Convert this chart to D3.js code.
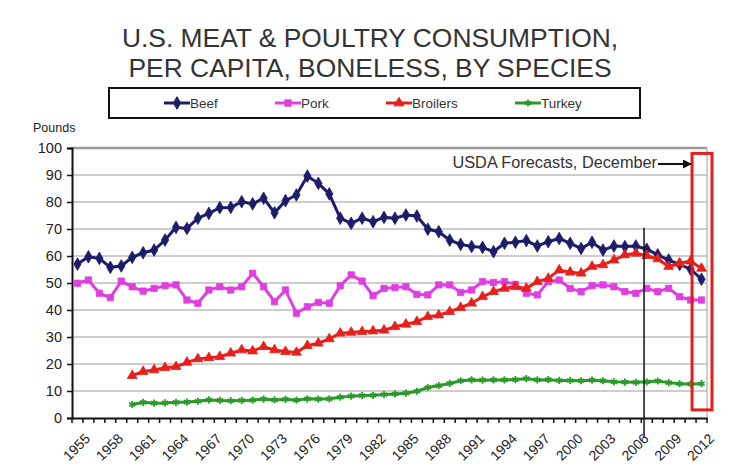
<!DOCTYPE html>
<html>
<head>
<meta charset="utf-8">
<script src="https://cdn.jsdelivr.net/npm/d3@7"></script>
<style>
  body { margin: 0; background: #fff; }
  svg { font-family: "Liberation Sans", Arial, sans-serif; }
</style>
</head>
<body>
<svg id="chart" width="742" height="475"></svg>
<script>
// years on the category axis
var years = d3.range(1955, 2013)

// pounds per capita, boneless
var beef = [57.0, 59.7, 59.1, 55.8, 56.3, 59.5, 61.2, 62.2, 65.9, 70.6,
            70.2, 74.0, 75.8, 77.9, 78.0, 80.1, 79.3, 81.4, 76.0, 80.5,
            82.6, 89.6, 86.9, 83.0, 74.0, 72.1, 74.0, 72.7, 74.3, 74.0,
            75.2, 74.8, 69.9, 69.0, 65.9, 64.3, 63.5, 63.2, 61.6, 64.7,
            65.1, 65.7, 63.7, 65.3, 66.5, 64.7, 62.8, 65.1, 62.2, 63.7,
            63.5, 63.7, 62.5, 60.4, 58.5, 56.9, 55.1, 51.4]

var pork = [49.9, 51.1, 46.2, 44.6, 50.7, 48.6, 47.0, 48.0, 49.0, 49.3,
            43.7, 42.5, 47.4, 48.6, 47.4, 48.6, 53.6, 48.6, 43.1, 47.4,
            38.8, 41.2, 42.8, 42.5, 49.0, 53.0, 50.7, 45.3, 48.0, 48.3,
            48.6, 45.8, 45.6, 49.3, 49.3, 46.5, 47.4, 50.5, 50.2, 50.5,
            49.5, 46.2, 45.6, 50.5, 51.1, 48.0, 46.8, 49.0, 49.3, 48.6,
            46.8, 46.2, 48.0, 46.8, 48.0, 44.9, 43.7, 43.7]

// broilers and turkey start in 1960
var broilers = [null, null, null, null, null,
            15.7, 17.2, 17.8, 18.6, 19.0, 20.6, 21.9, 22.3, 22.7, 24.0,
            25.2, 24.8, 26.4, 25.2, 24.6, 24.3, 26.8, 27.7, 29.3, 31.4,
            31.7, 32.0, 32.2, 32.5, 33.8, 34.7, 35.7, 37.5, 38.1, 39.4,
            40.9, 42.5, 44.9, 46.8, 48.0, 48.6, 48.0, 50.5, 51.7, 54.8,
            54.0, 53.6, 56.1, 56.7, 58.5, 60.4, 61.0, 60.1, 58.9, 56.1,
            57.3, 58.1, 55.4]

var turkey = [null, null, null, null, null,
            5.0, 5.8, 5.5, 5.6, 5.8, 5.9, 6.2, 6.7, 6.5, 6.4,
            6.5, 6.6, 7.0, 6.7, 6.9, 6.6, 7.1, 7.0, 7.1, 7.7,
            8.1, 8.3, 8.4, 8.7, 8.9, 9.2, 9.9, 11.3, 12.0, 12.8,
            13.8, 14.1, 14.0, 14.1, 14.1, 14.2, 14.6, 14.1, 14.2, 13.9,
            13.9, 13.8, 14.0, 13.8, 13.4, 13.3, 13.2, 13.4, 13.7, 13.1,
            12.7, 12.6, 12.7]

var yTicks = d3.range(0, 101, 10)

var series = [
    {name: "Beef", values: beef, color: "#1c1c6b", symbol: d3.symbolDiamond, size: 46},
    {name: "Pork", values: pork, color: "#e03ee0", symbol: d3.symbolSquare, size: 40},
    {name: "Broilers", values: broilers, color: "#e8201c", symbol: d3.symbolTriangle, size: 42},
    {name: "Turkey", values: turkey, color: "#2a9a2a", symbol: d3.symbolAsterisk, size: 36}
]

var dimensions = {
    width: 742,
    height: 475,
    margin: {top: 148, bottom: 57, left: 72, right: 35}
}

var svg = d3.select("#chart")

var xScale = d3.scaleBand()
    .domain(years)
    .range([dimensions.margin.left, dimensions.width - dimensions.margin.right])
    .padding(0)
var bw = xScale.bandwidth()
var xc = d => xScale(d) + bw / 2

var yScale = d3.scaleLinear()
    .domain([0, 100])
    .range([dimensions.height - dimensions.margin.bottom, dimensions.margin.top])

var x0 = dimensions.margin.left
var x1 = dimensions.width - dimensions.margin.right

//title
svg.append("g").selectAll("text")
    .data(["U.S. MEAT & POULTRY CONSUMPTION,", "PER CAPITA, BONELESS, BY SPECIES"])
    .enter().append("text")
    .attr("x", 370)
    .attr("y", (d, i) => 47 + i * 30)
    .attr("text-anchor", "middle")
    .attr("font-size", 26.4)
    .attr("fill", "#333")
    .text(d => d)

//legend
svg.append("rect")
    .attr("x", 109).attr("y", 88)
    .attr("width", 531).attr("height", 30)
    .attr("fill", "none").attr("stroke", "#111").attr("stroke-width", 2)

var legendX = [164, 275, 386, 515]
var legend = svg.append("g").selectAll("g")
    .data(series)
    .enter().append("g")
    .attr("transform", (d, i) => `translate(${legendX[i]},103)`)
legend.append("line")
    .attr("x1", 0).attr("x2", 26)
    .attr("stroke", d => d.color).attr("stroke-width", 3)
legend.append("path")
    .attr("transform", "translate(13,0)")
    .attr("d", d => d3.symbol().type(d.symbol).size(d.size)())
    .attr("fill", d => d.name == "Turkey" ? "none" : d.color)
    .attr("stroke", d => d.color)
    .attr("stroke-width", d => d.name == "Turkey" ? 1.8 : 1)
legend.append("text")
    .attr("x", 26).attr("y", 5)
    .attr("font-size", 13.5)
    .attr("fill", "#333")
    .text(d => d.name)

svg.append("text")
    .attr("x", 33).attr("y", 132)
    .attr("font-size", 12.5)
    .attr("fill", "#222")
    .text("Pounds")

//gridlines
svg.append("g").selectAll("line")
    .data(yTicks.filter(d => d > 0))
    .enter().append("line")
    .attr("x1", x0).attr("x2", x1)
    .attr("y1", d => yScale(d)).attr("y2", d => yScale(d))
    .attr("stroke", d => d == 100 ? "#999" : "#bdbdbd")
    .attr("stroke-width", d => d == 100 ? 2.5 : 1.6)

//right border of plot area
svg.append("line")
    .attr("x1", x1).attr("x2", x1)
    .attr("y1", yScale(100)).attr("y2", yScale(0))
    .attr("stroke", "#bbb").attr("stroke-width", 1.5)

//y axis
var yAxisgen = d3.axisLeft(yScale).tickValues(yTicks).tickSize(5).tickPadding(5)
var yAxis = svg.append("g")
    .attr("transform", `translate(${x0},0)`)
    .call(yAxisgen)
yAxis.select(".domain").attr("stroke", "#111").attr("stroke-width", 2)
yAxis.selectAll(".tick line").attr("stroke", "#111").attr("stroke-width", 1.5)
yAxis.selectAll("text")
    .attr("font-size", 14.5)
    .attr("font-family", "Liberation Sans, Arial, sans-serif")
    .attr("fill", "#222")

//x axis, ticks between categories
var xAxisgen = d3.axisBottom(xScale)
    .tickSize(5)
    .tickSizeOuter(0)
    .tickFormat(d => (d - 1955) % 3 == 0 ? d : "")
var xAxis = svg.append("g")
    .attr("transform", `translate(0,${yScale(0)})`)
    .call(xAxisgen)
xAxis.select(".domain").attr("stroke", "#111").attr("stroke-width", 2)
xAxis.selectAll(".tick line")
    .attr("x1", -bw / 2).attr("x2", -bw / 2)
    .attr("stroke", "#111").attr("stroke-width", 1.5)
xAxis.append("line")
    .attr("x1", x1).attr("x2", x1).attr("y1", 0).attr("y2", 5)
    .attr("stroke", "#111").attr("stroke-width", 1.5)
xAxis.selectAll(".tick text")
    .attr("font-size", 14)
    .attr("font-family", "Liberation Sans, Arial, sans-serif")
    .attr("fill", "#222")
    .attr("text-anchor", "end")
    .attr("transform", "translate(1,9) rotate(-45)")
    .attr("dy", "0.7em")

//lines and markers
var lineGen = d3.line()
    .defined(d => d.v != null)
    .x(d => xc(d.year))
    .y(d => yScale(d.v))

series.forEach(function(s) {
    var pts = years.map((y, i) => ({year: y, v: s.values[i]}))
    svg.append("path")
        .datum(pts)
        .attr("fill", "none")
        .attr("stroke", s.color)
        .attr("stroke-width", 3)
        .attr("d", lineGen)
    svg.append("g").selectAll("path")
        .data(pts.filter(d => d.v != null))
        .enter().append("path")
        .attr("transform", d => `translate(${xc(d.year)},${yScale(d.v)})`)
        .attr("d", d3.symbol().type(s.symbol).size(s.size)())
        .attr("fill", s.name == "Turkey" ? "none" : s.color)
        .attr("stroke", s.color)
        .attr("stroke-width", s.name == "Turkey" ? 1.8 : 0.8)
})

//2007 divider
svg.append("line")
    .attr("x1", xScale(2007) + bw * 0.25).attr("x2", xScale(2007) + bw * 0.25)
    .attr("y1", yScale(70.5)).attr("y2", yScale(0) + 19)
    .attr("stroke", "#111").attr("stroke-width", 1.5)

//forecast box
svg.append("rect")
    .attr("x", xScale(2012) - 4)
    .attr("y", yScale(98))
    .attr("width", bw + 9)
    .attr("height", yScale(3) - yScale(98))
    .attr("fill", "none")
    .attr("stroke", "#e0201c")
    .attr("stroke-width", 3)

svg.append("defs").append("marker")
    .attr("id", "arrow")
    .attr("viewBox", "0 0 10 10")
    .attr("refX", 9).attr("refY", 5)
    .attr("markerWidth", 5).attr("markerHeight", 5)
    .attr("orient", "auto")
    .append("path").attr("d", "M0,0L10,5L0,10z").attr("fill", "#111")

svg.append("text")
    .attr("x", 657).attr("y", 168)
    .attr("text-anchor", "end")
    .attr("font-size", 16.3)
    .attr("fill", "#333")
    .text("USDA Forecasts, December")

svg.append("line")
    .attr("x1", 658).attr("x2", xScale(2012) - 5)
    .attr("y1", 164).attr("y2", 164)
    .attr("stroke", "#111").attr("stroke-width", 1.8)
    .attr("marker-end", "url(#arrow)")
</script>
</body>
</html>
